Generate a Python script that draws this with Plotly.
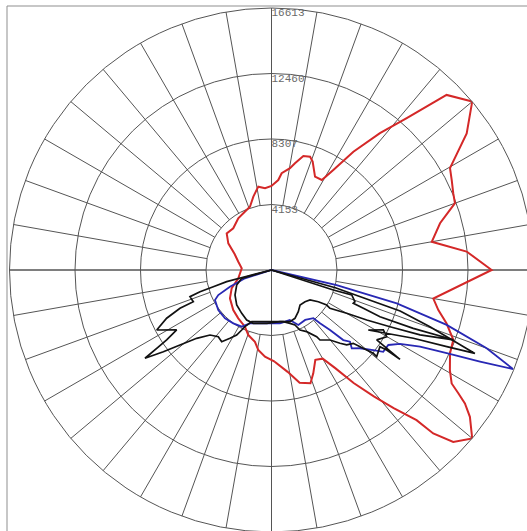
import plotly.graph_objects as go

# Intensity rings (cd) and angular spacing of the spokes (degrees)
ring_values = [4153, 8307, 12460, 16613]
ring_labels = ["4153", "8307", "12460", "16613"]
spoke_step = 10
axis_angles = [0, 90, 180, 270]

# Angles are measured from nadir (0 = straight down), counter-clockwise.
red_theta = [2, 9, 14, 19, 22, 26, 30, 33, 36, 39, 41.5, 44, 44.7, 46.6, 50, 53.5, 55.4, 56.6,
             57.8, 60.7, 65, 69, 73, 76.5, 80, 90, 95.4, 100, 105.5, 110, 112.9, 116.5, 119.7,
             125, 130, 135, 138.3, 141.6, 145.3, 148.3, 150.8, 155, 159.2, 161.2, 164.4, 167.6,
             169.7, 174, 175.7, 180, 184.5, 189, 193.9, 198.8, 206.4, 212.7, 222.5, 230.7, 238.3,
             246.5, 256, 266.7, 284, 294.7, 304.3, 316.3, 325.5, 334.9, 340.4, 347, 350.6, 355.7]
red_r = [5820, 6540, 7370, 7590, 7070, 6340, 6490, 7420, 8860, 10310, 11690, 13240, 14580, 15860,
         16613, 15650, 14900, 14190, 13500, 12970, 12490, 12350, 11610, 10880, 10420, 13960, 12430,
         10320, 11090, 12380, 12510, 12770, 13030, 15110, 16613, 15700, 12890, 11070, 9120, 7460,
         6540, 6530, 7350, 7590, 7510, 6930, 6560, 6170, 5720, 5330, 5200, 5350, 4790, 4240, 4020,
         3900, 3590, 3670, 3220, 2550, 2170, 1890, 2170, 2780, 3190, 3510, 3720, 3970, 4380, 4670,
         5140, 5510]

blue_theta = [9, 20, 26, 34, 41, 42.3, 44.3, 45.7, 47.6, 45.7, 48.5, 51.8, 53.8, 57.3, 60.1, 62.7,
              64.6, 66.3, 67.7, 70, 72.6, 75.1, 77, 77.5, 286, 287.4, 291.9, 295.2, 298, 306.9,
              316.1, 324.4, 332.3, 338, 355]
blue_r = [3420, 3380, 3880, 3820, 4050, 4570, 5310, 6360, 6740, 7110, 7490, 8210, 8780, 8800, 9400,
          10600, 12300, 14440, 16550, 14520, 11640, 8220, 4240, 0, 0, 1760, 2840, 3730, 4060, 4220,
          4250, 4160, 4060, 3650, 3390]

inner_theta = [72.5, 72.1, 72.7, 69.2, 67.8, 67.4, 66.7, 67.6, 69.0, 66.4, 64.4, 62.3, 60.1, 56.8,
               57.6, 55.9, 52.1, 46.6, 39.2, 32.7, 25.9, 19.7, 9.3, 354.9, 341.1, 333.6, 325.5,
               315.2, 304.4, 293.3, 285.6, 284]
inner_r = [0, 4120, 5330, 5660, 5600, 6310, 7490, 9720, 12350, 10280, 8330, 6820, 5500, 4430, 4145,
           3585, 3095, 2925, 2863, 3143, 3406, 3482, 3322, 3393, 3571, 3539, 3333, 3130, 2805,
           2403, 1962, 0]

wide_theta = [76, 74.5, 72.3, 70.3, 67.7, 66.4, 64.3, 58.2, 61.8, 59.9, 56.4, 55.2, 55.2, 54.7,
              50.5, 50.7, 49.1, 48.1, 45.1, 43.1, 39.9, 34.7, 34.1, 29.7, 25.4, 23.1, 19.1, 12.9,
              358.5, 339, 334.9, 333.6, 331.8, 328.7, 325.2, 321.4, 316.6, 312.4, 309.3, 307.1,
              304.9, 304.3, 303.7, 302.3, 297.6, 294.7, 292.7, 292.1, 288.1, 286.9, 286.0, 284.6,
              284.2, 283]
wide_r = [0, 4200, 8560, 10670, 13940, 12130, 9980, 7220, 8045, 8440, 8010, 9920, 8890, 8425, 8640,
          8340, 7430, 6965, 6730, 6360, 5785, 5400, 5110, 4500, 4210, 3790, 3580, 3360, 3280, 3500,
          3968, 4248, 4676, 5067, 5535, 5409, 5674, 6423, 7502, 8598, 9783, 8811, 7990, 7114,
          8213, 7317, 6290, 5351, 5438, 4738, 3839, 2936, 1733, 0]

GRID = "#555555"
FRAME = "#8f8f8f"

# Page geometry: the polar disc is slightly larger than the visible window
W, H = 536, 534
CX, CY, RAD = 271.5, 270, 262
dom_x = [(CX - RAD) / W, (CX + RAD) / W]
dom_y = [(H - CY - RAD) / H, (H - CY + RAD) / H]


def closed(seq):
    return list(seq) + [seq[0]]


fig = go.Figure()

# Spoke layer (polar): keeps the inner disc free of spokes by cutting a hole
fig.add_trace(go.Scatterpolar(r=[ring_values[-1]], theta=[0], mode="markers",
                              marker=dict(size=0.1, opacity=0), subplot="polar",
                              showlegend=False, hoverinfo="skip"))

curves = [
    (red_theta, red_r, "#d42828", 2.0),
    (blue_theta, blue_r, "#2828b4", 1.8),
    (wide_theta, wide_r, "#121212", 1.7),
    (inner_theta, inner_r, "#121212", 1.7),
]
for th, rr, color, width in curves:
    fig.add_trace(go.Scatterpolar(r=closed(rr), theta=closed(th), mode="lines",
                                  line=dict(color=color, width=width),
                                  subplot="polar2", showlegend=False, hoverinfo="skip"))

# Ring value labels along the upward axis
fig.add_trace(go.Scatterpolar(r=ring_values, theta=[180] * len(ring_values), mode="text",
                              text=ring_labels, textposition="bottom right",
                              textfont=dict(family="Liberation Mono", size=11, color="#6a6a6a"),
                              subplot="polar2", showlegend=False, hoverinfo="skip"))

fig.update_layout(
    width=W, height=H,
    margin=dict(l=0, r=0, t=0, b=0),
    paper_bgcolor="white",
    plot_bgcolor="white",
    polar=dict(
        domain=dict(x=dom_x, y=dom_y),
        hole=ring_values[0] / ring_values[-1],
        bgcolor="white",
        radialaxis=dict(range=[ring_values[0], ring_values[-1]], visible=False),
        angularaxis=dict(rotation=270, direction="counterclockwise", tickmode="linear",
                         tick0=0, dtick=spoke_step, showgrid=True, gridcolor=GRID, gridwidth=1,
                         showticklabels=False, ticks="", showline=False),
    ),
    polar2=dict(
        domain=dict(x=dom_x, y=dom_y),
        bgcolor="rgba(0,0,0,0)",
        radialaxis=dict(range=[0, ring_values[-1]], tickvals=ring_values[:-1], showgrid=True,
                        gridcolor=GRID, gridwidth=1, showticklabels=False, ticks="",
                        showline=False),
        angularaxis=dict(rotation=270, direction="counterclockwise", tickvals=axis_angles,
                         showgrid=True, gridcolor=GRID, gridwidth=1, showticklabels=False,
                         ticks="", showline=True, linecolor=GRID, linewidth=1),
    ),
    shapes=[
        dict(type="line", xref="paper", yref="paper", x0=7 / W, x1=1.0, y0=1 - 6 / H,
             y1=1 - 6 / H, line=dict(color=FRAME, width=1)),
        dict(type="line", xref="paper", yref="paper", x0=7 / W, x1=7 / W, y0=0, y1=1 - 6 / H,
             line=dict(color=FRAME, width=1)),
    ],
)

fig.write_html(
    "out.html",
    config={"displayModeBar": False},
    post_script="document.documentElement.style.overflow='hidden';"
                "document.body.style.overflow='hidden';",
)
